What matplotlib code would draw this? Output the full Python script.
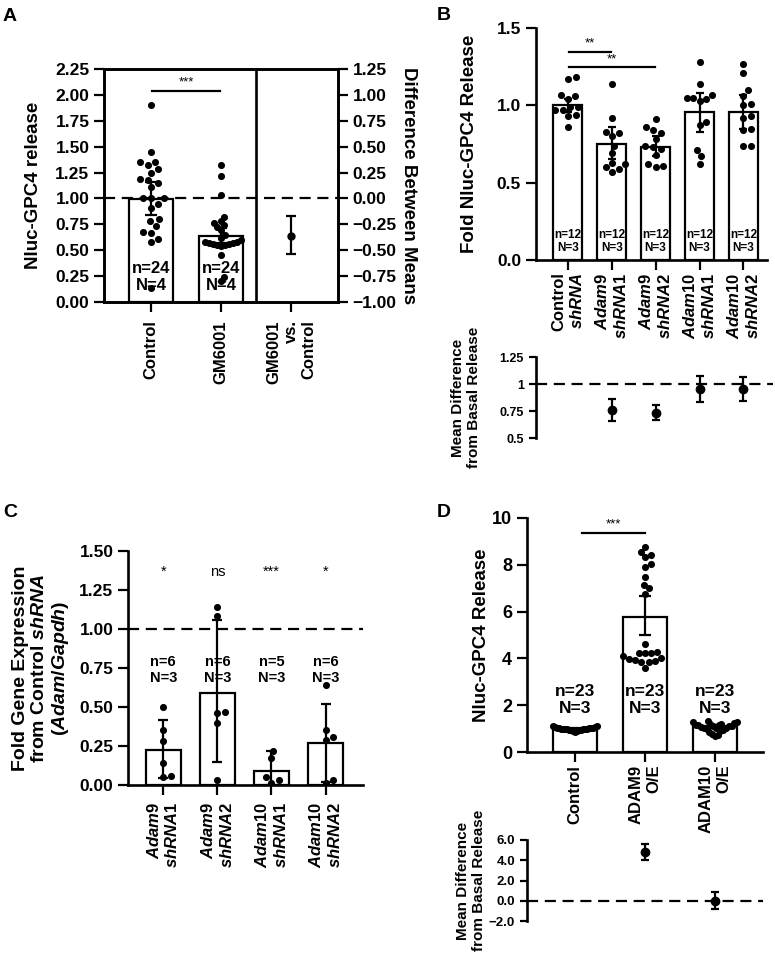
import matplotlib
matplotlib.use('Agg')
import matplotlib.pyplot as plt
import numpy as np

plt.rcParams['font.family'] = ['Liberation Sans', 'DejaVu Sans']
plt.rcParams['font.weight'] = 'bold'
plt.rcParams['axes.labelweight'] = 'bold'
plt.rcParams['mathtext.fontset'] = 'custom'
plt.rcParams['mathtext.rm'] = 'Liberation Sans:bold'
plt.rcParams['mathtext.bf'] = 'Liberation Sans:bold'
plt.rcParams['mathtext.it'] = 'Liberation Sans:italic:bold'
plt.rcParams['axes.linewidth'] = 1.9

# ---------------- data ----------------
# A
a_labels = ['Control', 'GM6001', 'GM6001\nvs.\nControl']
a_control = [1.90, 1.45, 1.35, 1.35, 1.32, 1.28, 1.25, 1.18, 1.19, 1.15, 1.11, 1.00,
             1.00, 1.00, 0.95, 0.91, 0.80, 0.78, 0.73, 0.67, 0.68, 0.61, 0.58, 0.14]
a_gm6001 = [1.32, 1.22, 1.03, 0.82, 0.78, 0.76, 0.74, 0.72, 0.70, 0.65, 0.62, 0.60,
            0.58, 0.57, 0.56, 0.55, 0.55, 0.56, 0.57, 0.58, 0.54, 0.45, 0.24, 0.20]
a_mean = [0.99, 0.64]
a_lo = [0.84, 0.57]
a_hi = [1.16, 0.71]
a_n = [24, 24]
a_N = [4, 4]
a_diff, a_diff_lo, a_diff_hi = -0.36, -0.54, -0.17

# B
b_labels = ['Control\n$\\mathit{shRNA}$', '$\\mathit{Adam9}$\n$\\mathit{shRNA1}$',
            '$\\mathit{Adam9}$\n$\\mathit{shRNA2}$', '$\\mathit{Adam10}$\n$\\mathit{shRNA1}$',
            '$\\mathit{Adam10}$\n$\\mathit{shRNA2}$']
b_control = [1.17, 1.18, 1.07, 1.04, 1.06, 0.99, 0.97, 0.99, 0.97, 0.94, 0.93, 0.86]
b_a9_1 = [1.14, 0.92, 0.82, 0.83, 0.80, 0.74, 0.69, 0.63, 0.62, 0.60, 0.59, 0.57]
b_a9_2 = [0.91, 0.86, 0.84, 0.82, 0.78, 0.73, 0.74, 0.72, 0.68, 0.62, 0.61, 0.60]
b_a10_1 = [1.28, 1.14, 1.07, 1.05, 1.05, 1.04, 1.03, 0.89, 0.87, 0.71, 0.67, 0.62]
b_a10_2 = [1.27, 1.21, 1.10, 1.06, 1.01, 1.00, 0.93, 0.92, 0.85, 0.84, 0.74, 0.74]
b_mean = [1.00, 0.75, 0.73, 0.955, 0.955]
b_lo = [0.96, 0.65, 0.67, 0.83, 0.85]
b_hi = [1.04, 0.86, 0.80, 1.08, 1.07]
b_n = [12, 12, 12, 12, 12]
b_N = [3, 3, 3, 3, 3]
b_md = [0.765, 0.737, 0.96, 0.96]
b_md_lo = [0.66, 0.67, 0.84, 0.85]
b_md_hi = [0.86, 0.81, 1.08, 1.07]

# C
c_labels = ['$\\mathit{Adam9}$\n$\\mathit{shRNA1}$', '$\\mathit{Adam9}$\n$\\mathit{shRNA2}$',
            '$\\mathit{Adam10}$\n$\\mathit{shRNA1}$', '$\\mathit{Adam10}$\n$\\mathit{shRNA2}$']
c_a9_1 = [0.50, 0.35, 0.28, 0.14, 0.05, 0.06]
c_a9_2 = [1.14, 1.085, 0.46, 0.47, 0.40, 0.03]
c_a10_1 = [0.015, 0.22, 0.17, 0.05, 0.035]
c_a10_2 = [0.64, 0.35, 0.31, 0.29, 0.015, 0.03]
c_mean = [0.224, 0.59, 0.092, 0.27]
c_lo = [0.043, 0.145, 0.0, 0.02]
c_hi = [0.417, 1.06, 0.22, 0.517]
c_n = [6, 6, 5, 6]
c_N = [3, 3, 3, 3]
c_sig = ['*', 'ns', '***', '*']

# D
d_labels = ['Control', 'ADAM9\nO/E', 'ADAM10\nO/E']
d_control = [0.88, 0.92, 0.95, 0.97, 0.98, 0.99, 1.00, 1.00, 1.01, 1.02, 1.03, 1.04,
             1.05, 1.06, 1.08, 1.10, 0.94, 0.96, 0.99, 1.01, 1.03, 0.90, 1.12]
d_adam9 = [8.77, 8.55, 8.41, 8.31, 8.01, 7.91, 7.46, 6.99, 7.13, 6.75, 4.62, 4.29,
           4.25, 4.22, 4.25, 4.10, 3.96, 3.90, 3.86, 3.86, 3.93, 4.00, 3.61]
d_adam10 = [0.70, 0.75, 0.80, 0.85, 0.90, 0.95, 1.00, 1.02, 1.05, 1.08, 1.10, 1.12,
            1.15, 1.18, 1.20, 1.22, 1.25, 1.28, 1.30, 1.33, 1.10, 1.15, 1.05]
d_mean = [1.0, 5.78, 1.1]
d_lo = [0.97, 5.0, 1.05]
d_hi = [1.03, 6.66, 1.15]
d_n = [23, 23, 23]
d_N = [3, 3, 3]
d_md = [4.8, 0.0]
d_md_lo = [3.98, -0.79]
d_md_hi = [5.63, 0.85]

W, H = 775, 956
fig = plt.figure(figsize=(W / 100, H / 100), dpi=100)


def rect(l, t, r, b):
    return [l / W, 1 - b / H, (r - l) / W, (b - t) / H]


def swarm_x(ax, x0, vals, d, half_w):
    # simple beeswarm in pixel space, squeezed to fit within +-half_w pixels
    vals = np.asarray(vals, dtype=float)
    pts = ax.transData.transform(np.column_stack([np.full(len(vals), x0), vals]))
    offs = np.zeros(len(vals))
    placed = []
    for i in np.argsort(vals):
        y = pts[i, 1]
        cands = [0.0]
        for px, py in placed:
            dy = y - py
            if abs(dy) < d:
                dx = np.sqrt(d * d - dy * dy)
                cands += [px + dx, px - dx]
        cands.sort(key=abs)
        for c in cands:
            if all((c - px) ** 2 + (y - py) ** 2 >= d * d - 1e-6 for px, py in placed):
                offs[i] = c
                break
        placed.append((offs[i], y))
    m = np.abs(offs).max()
    if m > half_w:
        offs = offs * half_w / m
    xy = np.column_stack([pts[:, 0] + offs, pts[:, 1]])
    return ax.transData.inverted().transform(xy)[:, 0]


def bars(ax, groups, means, lo, hi, width, half_w, s, cap):
    pos = np.arange(1, len(means) + 1)
    ax.bar(pos, means, width, color='white', edgecolor='black', linewidth=1.6, zorder=1)
    for x0, vals in zip(pos, groups):
        ax.scatter(swarm_x(ax, x0, vals, 8, half_w), vals, s=s, color='black',
                   linewidths=0, zorder=3)
    ax.errorbar(pos, means, yerr=[np.subtract(means, lo), np.subtract(hi, means)],
                fmt='none', ecolor='black', elinewidth=1.6, capsize=cap, capthick=1.6,
                zorder=4)
    return pos


def nN(ax, pos, n, N, y, fs, ls):
    for x, a, b in zip(pos, n, N):
        ax.text(x, y, 'n=%d\nN=%d' % (a, b), ha='center', va='center', fontsize=fs,
                linespacing=ls, zorder=5)


dash = (0, (5, 3))
TICK = 12.5
LAB = 13.5

# ---------------- A ----------------
axA = fig.add_axes(rect(104, 69, 338, 302))
axA.set_xlim(0.33, 3.67)
axA.set_ylim(0, 2.25)
axA.set_yticks(np.arange(0, 2.26, 0.25))
axA.yaxis.set_major_formatter('{x:.2f}')
pos = bars(axA, [a_control, a_gm6001], a_mean, a_lo, a_hi, 0.63, 20, 26, 4)
nN(axA, pos, a_n, a_N, 0.24, 12, 1.2)
axA.axvline(2.5, color='black', lw=1.9)
axA.axhline(1.0, color='black', lw=1.6, ls=dash, zorder=2)
axA.plot([1.01, 1.99], [2.04, 2.04], color='black', lw=1.6)
axA.text(1.5, 2.06, '***', ha='center', va='bottom', fontsize=9.5, fontweight='normal')
axA.set_xticks([1, 2, 3])
axA.set_xticklabels(a_labels, rotation=90, ma='right', fontsize=12)
axA.tick_params(axis='both', direction='out', length=7, width=1.6)
axA.tick_params(axis='y', labelsize=TICK)
axA.tick_params(axis='x', pad=6)
axA.set_ylabel('Nluc-GPC4 release', fontsize=LAB, va='center')
axA.yaxis.set_label_coords((34 - 104) / 234, 0.5)
axA2 = axA.twinx()
axA2.set_ylim(-1.0, 1.25)
axA2.set_yticks(np.arange(-1.0, 1.26, 0.25))
axA2.yaxis.set_major_formatter('{x:.2f}')
axA2.tick_params(axis='y', direction='out', length=7, width=1.6, labelsize=TICK)
axA2.errorbar([3], [a_diff], yerr=[[a_diff - a_diff_lo], [a_diff_hi - a_diff]],
              fmt='o', color='black', ms=5, elinewidth=1.6, capsize=3.5, capthick=1.6)
axA2.set_ylabel('Difference Between Means', rotation=270, fontsize=LAB, va='center')
axA2.yaxis.set_label_coords((409 - 104) / 234, 0.5)
fig.text(3 / W, 1 - 21 / H, 'A', fontsize=14, va='baseline')

# ---------------- B ----------------
axB = fig.add_axes(rect(535.7, 28, 766.7, 260))
axB.set_xlim(0.27, 5.53)
axB.set_ylim(0, 1.5)
axB.set_yticks([0, 0.5, 1.0, 1.5])
axB.yaxis.set_major_formatter('{x:.1f}')
axB.spines[['top', 'right']].set_visible(False)
pos = bars(axB, [b_control, b_a9_1, b_a9_2, b_a10_1, b_a10_2], b_mean, b_lo, b_hi,
           0.66, 13, 26, 3)
nN(axB, pos, b_n, b_N, 0.12, 8.5, 1.15)
axB.plot([1.03, 1.99], [1.347, 1.347], color='black', lw=1.6)
axB.text(1.5, 1.36, '**', ha='center', va='bottom', fontsize=9.5, fontweight='normal')
axB.plot([1.03, 2.99], [1.245, 1.245], color='black', lw=1.6)
axB.text(2.0, 1.258, '**', ha='center', va='bottom', fontsize=9.5, fontweight='normal')
axB.set_xticks(pos)
axB.set_xticklabels(b_labels, rotation=90, ma='right', fontsize=12)
axB.tick_params(axis='both', direction='out', length=7, width=1.6)
axB.tick_params(axis='y', labelsize=TICK)
axB.tick_params(axis='x', pad=2)
axB.set_ylabel('Fold Nluc-GPC4 Release', fontsize=LAB, va='center')
axB.yaxis.set_label_coords((470 - 535.7) / 231, 0.5)
fig.text(437 / W, 1 - 20 / H, 'B', fontsize=14, va='baseline')

axB2 = fig.add_axes(rect(535.7, 357.3, 766.7, 438.3))
axB2.set_xlim(0.27, 5.53)
axB2.set_ylim(0.5, 1.25)
axB2.set_yticks([0.5, 0.75, 1, 1.25])
axB2.set_yticklabels(['0.5', '0.75', '1', '1.25'])
axB2.spines[['top', 'right', 'bottom']].set_visible(False)
axB2.set_xticks([])
axB2.tick_params(axis='y', direction='out', length=5, width=1.6, labelsize=9)
axB2.plot([0.27, 5.68], [1.0, 1.0], color='black', lw=1.6, ls=dash, zorder=1,
          clip_on=False)
axB2.errorbar([2, 3, 4, 5], b_md, yerr=[np.subtract(b_md, b_md_lo), np.subtract(b_md_hi, b_md)],
              fmt='o', color='black', ms=6, elinewidth=1.6, capsize=3, capthick=1.6, zorder=3)
axB2.set_ylabel('Mean Difference\nfrom Basal Release', fontsize=11, va='center',
                linespacing=1.25)
axB2.yaxis.set_label_coords((466 - 535.7) / 231, 0.5)

# ---------------- C ----------------
axC = fig.add_axes(rect(128, 551, 363, 785))
axC.set_xlim(0.35, 4.69)
axC.set_ylim(0, 1.5)
axC.set_yticks(np.arange(0, 1.51, 0.25))
axC.yaxis.set_major_formatter('{x:.2f}')
axC.spines[['top', 'right']].set_visible(False)
pos = bars(axC, [c_a9_1, c_a9_2, c_a10_1, c_a10_2], c_mean, c_lo, c_hi, 0.65, 12, 26, 3.5)
nN(axC, pos, c_n, c_N, 0.737, 10.5, 1.2)
for x, t in zip(pos, c_sig):
    axC.text(x, 1.367, t, ha='center', va='center', fontsize=10.5, fontweight='normal')
axC.axhline(1.0, color='black', lw=1.6, ls=dash, zorder=2)
axC.set_xticks(pos)
axC.set_xticklabels(c_labels, rotation=90, ma='right', fontsize=12)
axC.tick_params(axis='both', direction='out', length=7, width=1.6)
axC.tick_params(axis='y', labelsize=TICK)
axC.tick_params(axis='x', pad=5)
axC.set_ylabel('Fold Gene Expression\nfrom Control $\\mathit{shRNA}$\n$\\mathit{(Adam/Gapdh)}$',
               fontsize=14, va='center', linespacing=1.15)
axC.yaxis.set_label_coords((41.5 - 128) / 235, 0.5)
fig.text(3 / W, 1 - 516.7 / H, 'C', fontsize=14, va='baseline')

# ---------------- D ----------------
axD = fig.add_axes(rect(526.7, 517.7, 763.3, 752.3))
axD.set_xlim(0.31, 3.69)
axD.set_ylim(0, 10)
axD.set_yticks(np.arange(0, 11, 2))
axD.spines[['top', 'right']].set_visible(False)
pos = bars(axD, [d_control, d_adam9, d_adam10], d_mean, d_lo, d_hi, 0.64, 22, 26, 4)
nN(axD, pos, d_n, d_N, 2.23, 12.5, 1.2)
axD.plot([1.1, 2.0], [9.33, 9.33], color='black', lw=1.6)
axD.text(1.55, 9.45, '***', ha='center', va='bottom', fontsize=9.5, fontweight='normal')
axD.set_xticks(pos)
axD.set_xticklabels(d_labels, rotation=90, ma='right', fontsize=12)
axD.tick_params(axis='both', direction='out', length=7, width=1.6)
axD.tick_params(axis='y', labelsize=13)
axD.tick_params(axis='x', pad=2)
axD.set_ylabel('Nluc-GPC4 Release', fontsize=LAB, va='center')
axD.yaxis.set_label_coords((481 - 526.7) / 236.6, 0.5)
fig.text(437 / W, 1 - 516.7 / H, 'D', fontsize=14, va='baseline')

axD2 = fig.add_axes(rect(526.7, 840, 763.3, 921))
axD2.set_xlim(0.31, 3.69)
axD2.set_ylim(-2, 6)
axD2.set_yticks(np.arange(-2, 6.1, 2))
axD2.yaxis.set_major_formatter('{x:.1f}')
axD2.spines[['top', 'right', 'bottom']].set_visible(False)
axD2.set_xticks([])
axD2.tick_params(axis='y', direction='out', length=5, width=1.6, labelsize=9.5)
axD2.axhline(0.0, color='black', lw=1.6, ls=dash, zorder=1)
axD2.errorbar([2, 3], d_md, yerr=[np.subtract(d_md, d_md_lo), np.subtract(d_md_hi, d_md)],
              fmt='o', color='black', ms=6, elinewidth=1.6, capsize=3, capthick=1.6, zorder=3)
axD2.set_ylabel('Mean Difference\nfrom Basal Release', fontsize=11, va='center',
                linespacing=1.25)
axD2.yaxis.set_label_coords((471 - 526.7) / 236.6, 0.5)

fig.savefig('out.png', dpi=100)
